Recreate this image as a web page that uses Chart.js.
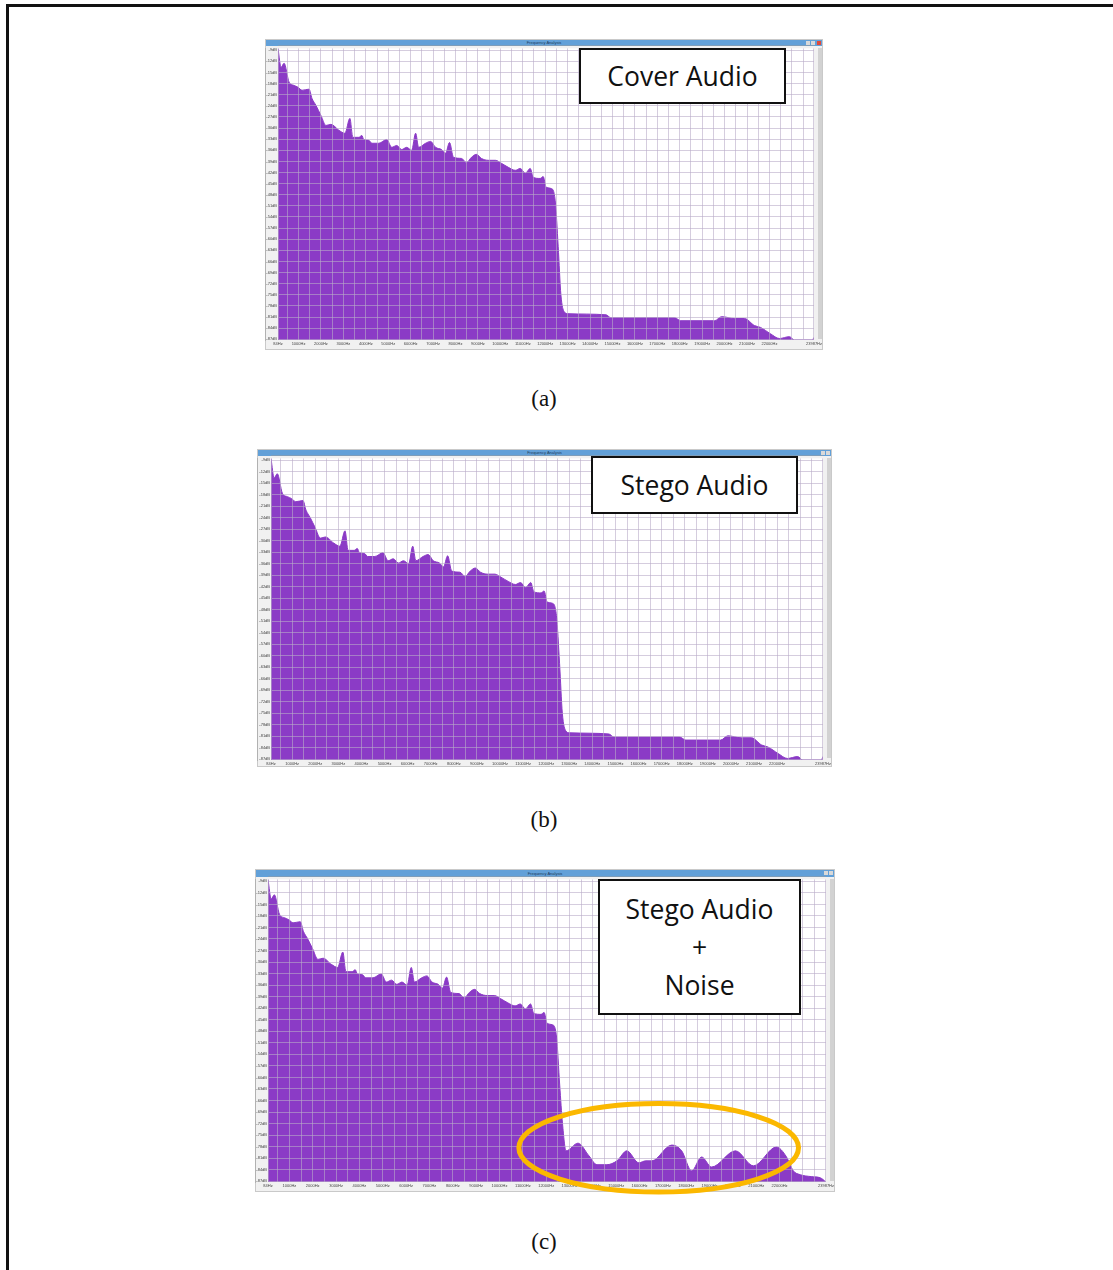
<!DOCTYPE html>
<html>
<head>
<meta charset="utf-8">
<script src="https://cdn.jsdelivr.net/npm/chart.js@4.4.1/dist/chart.umd.min.js"></script>
<style>
  html, body { margin:0; padding:0; background:#fff; width:1113px; height:1270px; overflow:hidden; }
  .frame { position:absolute; left:6px; top:4px; width:1300px; height:1400px; border:3px solid #111; box-sizing:border-box; }
  .win { position:absolute; background:#f1f1f1; border:1px solid #c9c9c9; box-sizing:border-box; }
  .bar { position:absolute; left:0; right:0; top:0; height:6px; background:#62a0d8; color:#1d3d5c;
         font:4px Arial, sans-serif; line-height:6px; text-align:center; overflow:hidden; }
  .btn { position:absolute; top:1px; width:4px; height:4px; background:#d9d9d9; }
  .btn.red { background:#e04a3a; }
  .scroll { position:absolute; right:0; width:4px; background:#d2d2d2; }
  canvas { position:absolute; }
  .box { position:absolute; background:#fff; border:2px solid #111; box-sizing:border-box;
         font-family:'Open Sans', sans-serif; font-size:26.5px; color:#111; text-align:center; }
  .cap { position:absolute; width:100px; text-align:center; font-family:'Liberation Serif', serif; font-size:23px; color:#111; }
</style>
</head>
<body>
<div class="frame"></div>

<div class="win" style="left:265px; top:39px; width:558px; height:311px;">
  <div class="bar">Frequency Analysis</div>
  <div class="btn" style="right:12px"></div><div class="btn" style="right:7px"></div><div class="btn red" style="right:1px"></div>
  <div class="scroll" style="top:8px; bottom:10px;"></div>
</div>
<canvas id="chartA" width="558" height="305" style="left:265px; top:45px;"></canvas>
<div class="box" style="left:579px; top:48px; width:207px; height:56px; line-height:52px;">Cover Audio</div>
<div class="cap" style="left:494px; top:386px;">(a)</div>

<div class="win" style="left:257px; top:449px; width:575px; height:318px;">
  <div class="bar">Frequency Analysis</div>
  <div class="btn" style="right:6px"></div><div class="btn" style="right:1px"></div>
  <div class="scroll" style="top:8px; bottom:8px;"></div>
</div>
<canvas id="chartB" width="575" height="312" style="left:257px; top:455px;"></canvas>
<div class="box" style="left:591px; top:456px; width:207px; height:58px; line-height:54px;">Stego Audio</div>
<div class="cap" style="left:494px; top:807px;">(b)</div>

<div class="win" style="left:255px; top:869px; width:580px; height:323px;">
  <div class="bar" style="height:7px; line-height:7px;">Frequency Analysis</div>
  <div class="btn" style="right:6px"></div><div class="btn" style="right:1px"></div>
  <div class="scroll" style="top:9px; bottom:10px;"></div>
</div>
<canvas id="chartC" width="580" height="329" style="left:255px; top:876px;"></canvas>
<div class="box" style="left:598px; top:879px; width:203px; height:136px; line-height:38px; padding-top:9px;">Stego Audio<br>+<br>Noise</div>
<div class="cap" style="left:494px; top:1229px;">(c)</div>

<script>
// spectrum below the cut-off (shared by the three recordings)
const lowFreqHz = [84, 222, 356, 578, 800, 978, 1156, 1467, 1600, 1778, 2000, 2222, 2444, 2800, 3067,
  3289, 3422, 3689, 3822, 3911, 4133, 4267, 4578, 4933, 5156, 5378, 5600, 5822, 6044, 6222, 6356,
  6667, 6889, 7111, 7378, 7556, 7733, 7911, 8267, 8489, 8711, 8933, 9156, 9467, 9778, 10044, 10356,
  10667, 10889, 11111, 11333, 11467, 11778, 11911, 12044, 12267, 12444];
const lowDb = [-8.5, -13.6, -12.5, -17.6, -18.5, -19.0, -19.8, -19.5, -22.0, -23.9, -26.6, -29.3, -29.0, -30.6, -31.4,
  -27.4, -32.5, -32.5, -32.0, -33.1, -33.3, -34.1, -34.1, -33.1, -35.2, -34.7, -35.8, -35.2, -36.0, -31.4, -35.2,
  -34.1, -33.6, -35.2, -35.8, -36.8, -33.9, -37.9, -38.2, -39.3, -37.9, -37.1, -38.2, -38.7, -38.7, -39.5, -40.6,
  -41.4, -40.9, -42.2, -40.9, -43.3, -43.6, -43.1, -46.0, -46.3, -49.5];

// cover / stego above the cut-off
const tailFreqHz = [12580, 12700, 12850, 13000, 14711, 14933, 17778, 18044, 19556, 19867, 20444, 20889,
  21333, 21600, 22044, 22444, 22889, 23111, 23911, 23987];
const coverTailDb = [-62, -75, -79.6, -80.1, -80.4, -81.2, -81.2, -82.0, -82.0, -80.9, -81.4, -81.4,
  -83.3, -83.8, -85.5, -86.8, -86.3, -87.2, -87.2, -86.5];
const stegoTailDb = [-62, -75, -79.6, -80.1, -80.4, -81.2, -81.2, -82.0, -82.0, -80.9, -81.4, -81.4,
  -83.3, -83.8, -85.5, -86.8, -86.3, -87.2, -87.2, -86.3];

// stego + noise above the cut-off
const noiseFreqHz = [12580, 12700, 12852, 13364, 13834, 14175, 14602, 15029, 15456, 15968, 16267, 16524,
  17378, 17805, 18232, 18659, 19086, 20110, 20879, 21861, 22288, 22587, 22886, 23356, 23740, 23987];
const noiseTailDb = [-62, -72, -79.1, -77.1, -80.4, -82.7, -82.7, -81.7, -79.1, -82.2, -81.7, -81.7,
  -77.6, -79.1, -84.3, -80.7, -83.3, -79.1, -83.0, -78.1, -80.6, -84.3, -85.3, -85.8, -86.1, -87.2];

const xLabelHz = [84, 1000, 2000, 3000, 4000, 5000, 6000, 7000, 8000, 9000, 10000, 11000, 12000,
  13000, 14000, 15000, 16000, 17000, 18000, 19000, 20000, 21000, 22000, 23987];
const yTickDb = [-9, -12, -15, -18, -21, -24, -27, -30, -33, -36, -39, -42, -45, -48, -51, -54,
  -57, -60, -63, -66, -69, -72, -75, -78, -81, -84, -87];

// highlighted noise region (panel c)
const noiseRing = { hz: 16820, db: -78.3, rHz: 5990, rDb: 11.5 };

const PURPLE = '#8b3bc6';
const GRID = 'rgba(185,172,200,0.6)';

function pts(fx, fy) { return fx.map((f, i) => ({ x: f, y: fy[i] })); }

const whitePlot = {
  id: 'whitePlot',
  beforeDraw(chart) {
    const a = chart.chartArea, c = chart.ctx;
    c.save(); c.fillStyle = '#fff'; c.fillRect(a.left, a.top, a.right - a.left, a.bottom - a.top); c.restore();
  }
};

const ringPlugin = {
  id: 'ring',
  afterDraw(chart) {
    const xs = chart.scales.x, ys = chart.scales.y, c = chart.ctx;
    const cx = xs.getPixelForValue(noiseRing.hz), cy = ys.getPixelForValue(noiseRing.db);
    const rx = xs.getPixelForValue(noiseRing.hz + noiseRing.rHz) - cx;
    const ry = cy - ys.getPixelForValue(noiseRing.db + noiseRing.rDb);
    c.save();
    c.strokeStyle = '#fbb800'; c.lineWidth = 5;
    c.beginPath(); c.ellipse(cx, cy, rx, ry, 0, 0, Math.PI * 2); c.stroke();
    c.restore();
  }
};

function makeChart(id, data, g, plugins) {
  return new Chart(document.getElementById(id), {
    type: 'line',
    data: { datasets: [{ data: data, borderColor: PURPLE, backgroundColor: PURPLE, borderWidth: 1,
      fill: 'start', pointRadius: 0, cubicInterpolationMode: 'monotone' }] },
    options: {
      responsive: false, animation: false,
      layout: { padding: { left: 0, top: g.top, right: g.right, bottom: g.bottom } },
      plugins: { legend: { display: false }, tooltip: { enabled: false } },
      scales: {
        x: {
          type: 'linear', min: 84, max: 23987,
          afterBuildTicks: s => {
            const t = [{ value: 84 }];
            for (let v = 500; v < 23987; v += 500) t.push({ value: v });
            t.push({ value: 23987 });
            s.ticks = t;
          },
          afterFit: s => { s.height = g.xh; },
          ticks: { autoSkip: false, maxRotation: 0, minRotation: 0, padding: 1, color: '#444',
            font: { size: 4, family: 'Arial' },
            callback: v => xLabelHz.includes(v) ? v + 'Hz' : '' },
          grid: { color: GRID, z: 1, drawTicks: false },
          border: { color: '#9a9a9a' }
        },
        y: {
          type: 'linear', min: -87.2, max: -8.5,
          afterBuildTicks: s => { s.ticks = yTickDb.map(v => ({ value: v })); },
          afterFit: s => { s.width = g.yw; },
          ticks: { padding: 1, color: '#444', font: { size: 4, family: 'Arial' }, callback: v => v + 'dB' },
          grid: { color: GRID, z: 1, drawTicks: false },
          border: { color: '#9a9a9a' }
        }
      }
    },
    plugins: [whitePlot].concat(plugins || [])
  });
}

makeChart('chartA', pts(lowFreqHz.concat(tailFreqHz), lowDb.concat(coverTailDb)),
  { top: 2, right: 5, bottom: 0, xh: 10, yw: 13 });
makeChart('chartB', pts(lowFreqHz.concat(tailFreqHz), lowDb.concat(stegoTailDb)),
  { top: 3, right: 4, bottom: 0, xh: 7, yw: 14 });
makeChart('chartC', pts(lowFreqHz.concat(noiseFreqHz), lowDb.concat(noiseTailDb)),
  { top: 2, right: 4, bottom: 13, xh: 10, yw: 13 }, [ringPlugin]);
</script>
</body>
</html>
